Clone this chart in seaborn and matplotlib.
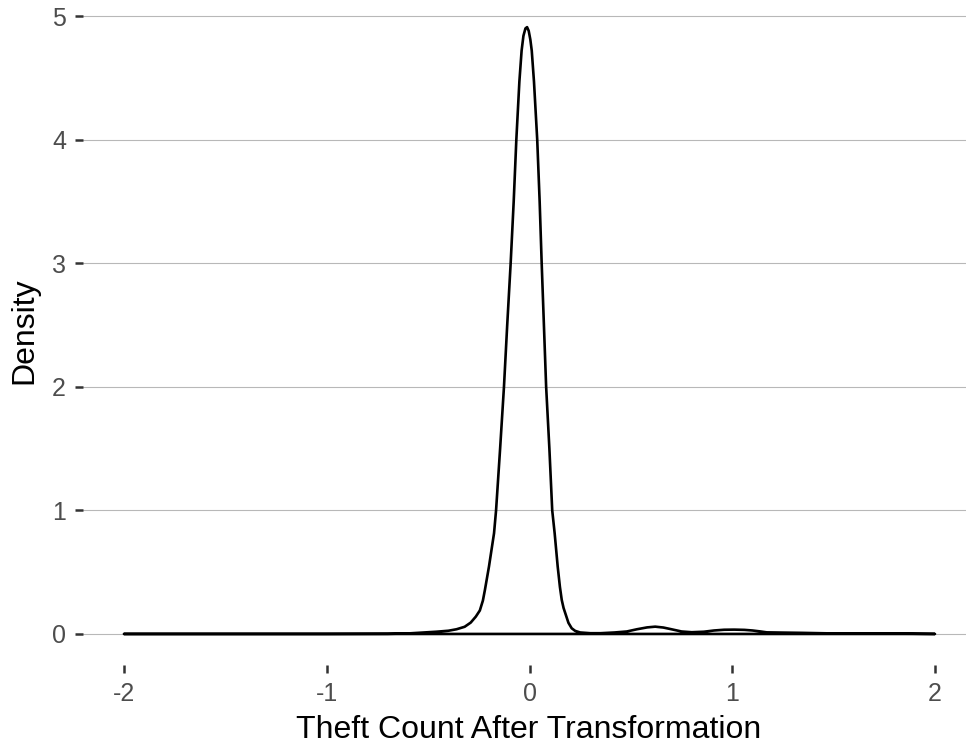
import matplotlib
matplotlib.use("Agg")
import matplotlib.pyplot as plt
import seaborn as sns
import pandas as pd

# Kernel density estimate of the transformed theft counts
dens_x = [-2.0, -1.0, -0.70, -0.60, -0.54, -0.46, -0.40, -0.36, -0.32, -0.29,
          -0.265, -0.245, -0.23, -0.22, -0.20, -0.175, -0.165, -0.145, -0.126,
          -0.11, -0.093, -0.078, -0.065, -0.050, -0.039, -0.030, -0.020, -0.012,
          -0.004, 0.004, 0.011, 0.022, 0.038, 0.050, 0.060, 0.071, 0.082, 0.098,
          0.112, 0.124, 0.139, 0.150, 0.159, 0.168, 0.178, 0.192, 0.208, 0.225,
          0.25, 0.30, 0.35, 0.42, 0.48, 0.53, 0.58, 0.62, 0.66, 0.70, 0.75, 0.80,
          0.86, 0.91, 0.96, 1.01, 1.06, 1.10, 1.14, 1.17, 1.25, 1.34, 1.50, 1.89,
          2.0]
dens_y = [0.0, 0.0, 0.001, 0.004, 0.010, 0.018, 0.026, 0.038, 0.058, 0.092,
          0.14, 0.19, 0.27, 0.356, 0.545, 0.815, 1.0, 1.5, 2.0,
          2.5, 3.0, 3.5, 4.0, 4.47, 4.72, 4.84, 4.90, 4.91,
          4.88, 4.81, 4.72, 4.47, 4.0, 3.5, 3.0, 2.5, 2.0, 1.5,
          1.0, 0.815, 0.545, 0.38, 0.275, 0.21, 0.16, 0.09, 0.046, 0.025,
          0.012, 0.006, 0.006, 0.012, 0.02, 0.038, 0.053, 0.059, 0.052, 0.038,
          0.02, 0.014, 0.018, 0.028, 0.034, 0.035, 0.033, 0.028, 0.02, 0.013,
          0.011, 0.009, 0.004, 0.002, 0.0]

x_ticks = [-2, -1, 0, 1, 2]
y_ticks = [0, 1, 2, 3, 4, 5]
x_title = "Theft Count After Transformation"
y_title = "Density"

sns.set_theme(style="white")
plt.rcParams["font.family"] = ["Liberation Sans", "DejaVu Sans"]

fig = plt.figure(figsize=(9.66, 7.48), dpi=100)
ax = fig.add_axes([0.0856, 0.111, 0.9144, 0.895])

# closed outline: curve left to right, then back along the baseline
outline = pd.DataFrame({
    "x": dens_x + [dens_x[-1], dens_x[0]],
    "y": dens_y + [0.0, 0.0],
})
sns.lineplot(data=outline, x="x", y="y", sort=False, estimator=None,
             color="black", linewidth=1.9, ax=ax, zorder=3)

ax.set_xlim(-2.204, 2.153)
ax.set_ylim(-0.251, 5.166)
ax.set_xticks(x_ticks)
ax.set_yticks(y_ticks)
ax.set_xticklabels([str(v) for v in x_ticks])
ax.set_yticklabels([str(v) for v in y_ticks])

for s in ax.spines.values():
    s.set_visible(False)

ax.grid(axis="y", color="#b8b8b8", linewidth=0.8)
ax.grid(axis="x", visible=False)
ax.set_axisbelow(True)

ax.tick_params(axis="both", which="major", length=6, width=1.8, color="#333333",
               labelcolor="#4d4d4d", labelsize=18, pad=6, direction="out",
               bottom=True, left=True)

ax.set_xlabel(x_title, fontsize=23, color="black")
ax.set_ylabel(y_title, fontsize=23, color="black")
ax.xaxis.set_label_coords(0.505, -0.074)
ax.yaxis.set_label_coords(-0.0665, 0.5)
ax.yaxis.label.set_va("center")

fig.savefig("out.png", dpi=100)
